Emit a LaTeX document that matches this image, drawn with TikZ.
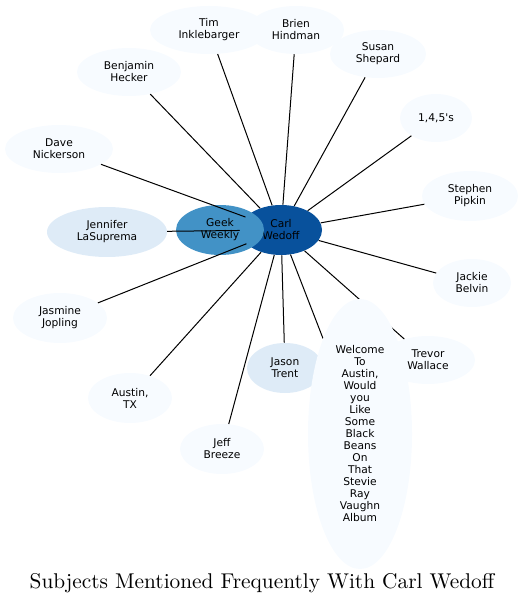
\documentclass[tikz,border=0pt]{standalone}
\usepackage{fontspec}
\usetikzlibrary{shapes.geometric}
\newfontfamily\labelfont{DejaVu Sans}
\newfontfamily\titlefont{lmroman10-regular}[Extension=.otf]
\definecolor{carlblue}{HTML}{08519C}
\definecolor{geekblue}{HTML}{4292C6}
\definecolor{paleblue}{HTML}{DEEBF7}
\definecolor{faintblue}{HTML}{F7FBFF}
\pgfdeclarelayer{front}
\pgfsetlayers{main,front}
\tikzset{
    person/.style 2 args = {ellipse, fill=faintblue, inner sep=0pt, align=center,
        minimum width=#1*1.5pt, minimum height=#2*1.5pt,
        font=\labelfont\fontsize{8}{9}\selectfont},
    link/.style = {draw=black, line width=0.75pt},
}

\begin{document}
\begin{tikzpicture}[x=0.75pt, y=-0.75pt]
\useasboundingbox (0,0) rectangle (524,605);
\node[person={41}{25}, fill=carlblue] (carl) at (281,230) {Carl\\Wedoff};
\node[person={44}{25}, fill=geekblue] (geek) at (220,230) {Geek\\Weekly};

\node[person={59}{24}] (tim) at (209,30) {Tim\\Inklebarger};
\node[person={48}{24}] (brien) at (296,30) {Brien\\Hindman};
\node[person={48}{24}] (susan) at (378,54) {Susan\\Shepard};
\node[person={52}{24}] (benjamin) at (129,72) {Benjamin\\Hecker};
\node[person={36}{24}] (onefourfive) at (436,118) {1,4,5's};
\node[person={54}{24}] (dave) at (59,149) {Dave\\Nickerson};
\node[person={48}{25}] (stephen) at (470,196) {Stephen\\Pipkin};
\node[person={60}{25}, fill=paleblue] (jennifer) at (107,232) {Jennifer\\LaSuprema};
\node[person={39}{24}] (jackie) at (472,283) {Jackie\\Belvin};
\node[person={47}{25}] (jasmine) at (60,318) {Jasmine\\Jopling};
\node[person={47}{24}] (trevor) at (428,360) {Trevor\\Wallace};
\node[person={38}{25}, fill=paleblue] (jason) at (285,368) {Jason\\Trent};
\node[person={42}{25}] (austin) at (130,398) {Austin,\\TX};
\node[person={42}{25}] (jeff) at (222,449) {Jeff\\Breeze};

% the tall one sits over the Trevor line
\begin{pgfonlayer}{front}
\node[person={52}{135}] (welcome) at (360,434) {Welcome\\To\\Austin,\\Would\\you\\Like\\Some\\Black\\Beans\\On\\That\\Stevie\\Ray\\Vaughn\\Album};
\end{pgfonlayer}

\draw[link] (carl) -- (tim);
\draw[link] (carl) -- (brien);
\draw[link] (carl) -- (susan);
\draw[link] (carl) -- (benjamin);
\draw[link] (carl) -- (onefourfive);
\draw[link] (carl) -- (dave);
\draw[link] (carl) -- (stephen);
\draw[link] (carl) -- (jennifer);
\draw[link] (carl) -- (jackie);
\draw[link] (carl) -- (jasmine);
\draw[link] (carl) -- (trevor);
\draw[link] (carl) -- (jason);
\draw[link] (carl) -- (austin);
\draw[link] (carl) -- (jeff);
\draw[link] (carl) -- (welcome);

\node[font=\titlefont\fontsize{16}{19}\selectfont] (title) at (262,583) {Subjects Mentioned Frequently With Carl Wedoff};
\end{tikzpicture}
\end{document}
